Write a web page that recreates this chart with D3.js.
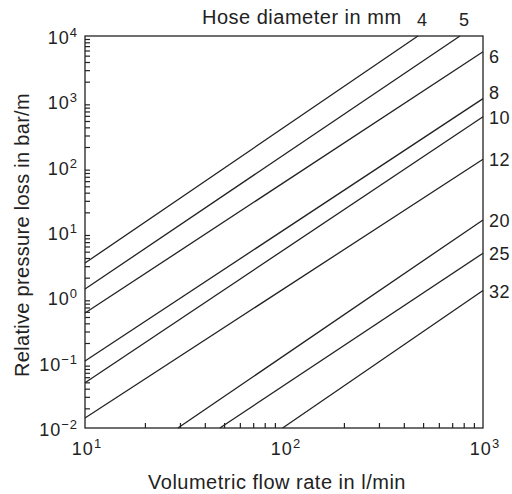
<!DOCTYPE html>
<html>
<head>
<meta charset="utf-8">
<script src="https://cdn.jsdelivr.net/npm/d3@7/dist/d3.min.js"></script>
<style>
  html, body { margin: 0; padding: 0; background: #fff; }
  text { font-family: "Liberation Sans", Arial, Helvetica, sans-serif; fill: #222; }
</style>
</head>
<body>
<svg id="chart" width="512" height="494"></svg>
<script>
// Hose diameters (mm) and the end points of each pressure-loss line
const diameters = ["4", "5", "6", "8", "10", "12", "20", "25", "32"];
const flowStart = [10, 10, 10, 10, 10, 10, 29.3, 47.6, 98.4];          // l/min
const lossStart = [3.35, 1.34, 0.575, 0.106, 0.0494, 0.0142, 0.01, 0.01, 0.01]; // bar/m
const flowEnd   = [471, 766, 1000, 1000, 1000, 1000, 1000, 1000, 1000];
const lossEnd   = [10000, 10000, 5730, 1100, 580, 130, 15.3, 4.73, 1.27];

const xTickValues = [10, 100, 1000];
const xTickExps   = ["1", "2", "3"];
const yTickValues = [0.01, 0.1, 1, 10, 100, 1000, 10000];
const yTickExps   = ["\u22122", "\u22121", "0", "1", "2", "3", "4"];

const margin = { left: 85, right: 29, top: 36, bottom: 66 };
const W = 512, H = 494;
const svg = d3.select("#chart");

const x = d3.scaleLog().domain([10, 1000]).range([margin.left, W - margin.right]);
const y = d3.scaleLog().domain([0.01, 10000]).range([H - margin.bottom, margin.top]);

const minorX = [];
for (let d = 10; d < 1000; d *= 10) for (let k = 2; k <= 9; k++) minorX.push(d * k);
const minorY = [];
for (let d = 0.01; d < 10000; d *= 10) for (let k = 2; k <= 9; k++) minorY.push(d * k);

// Frame
svg.append("rect")
  .attr("x", x(10)).attr("y", y(10000))
  .attr("width", x(1000) - x(10)).attr("height", y(0.01) - y(10000))
  .attr("fill", "none").attr("stroke", "#222").attr("stroke-width", 1.3);

// Inward ticks on the bottom axis
const xAxis = d3.axisBottom(x).tickValues(minorX).tickSize(-5).tickFormat("");
svg.append("g").attr("transform", `translate(0,${y(0.01)})`).call(xAxis)
  .call(g => g.select(".domain").remove())
  .selectAll("line").attr("stroke", "#222").attr("stroke-width", 1.2);

// Inward ticks on the left axis
const yAxis = d3.axisLeft(y).tickValues(minorY).tickSize(-5).tickFormat("");
svg.append("g").attr("transform", `translate(${x(10)},0)`).call(yAxis)
  .call(g => g.select(".domain").remove())
  .selectAll("line").attr("stroke", "#222").attr("stroke-width", 1.2);

// Power-of-ten tick labels
xTickValues.forEach((v, i) => {
  const t = svg.append("text").attr("x", x(v) + 2).attr("y", y(0.01) + 27)
    .attr("text-anchor", "middle").attr("font-size", 18).attr("letter-spacing", 1);
  t.append("tspan").text("10");
  t.append("tspan").attr("dy", -7).attr("font-size", 13).text(xTickExps[i]);
});
yTickValues.forEach((v, i) => {
  const t = svg.append("text").attr("x", x(10) - 7).attr("y", y(v) + 8)
    .attr("text-anchor", "end").attr("font-size", 18).attr("letter-spacing", 1);
  t.append("tspan").text("10");
  t.append("tspan").attr("dy", -7).attr("font-size", 13).text(yTickExps[i]);
});

// Axis titles
svg.append("text").attr("x", 277).attr("y", 489)
  .attr("text-anchor", "middle").attr("font-size", 20).attr("letter-spacing", 0.5)
  .text("Volumetric flow rate in l/min");
svg.append("text").attr("transform", `translate(29,235) rotate(-90)`)
  .attr("text-anchor", "middle").attr("font-size", 20).attr("letter-spacing", 0.3)
  .text("Relative pressure loss in bar/m");

// Pressure-loss lines
const line = d3.line().x(d => x(d[0])).y(d => y(d[1]));
diameters.forEach((d, i) => {
  svg.append("path")
    .attr("d", line([[flowStart[i], lossStart[i]], [flowEnd[i], lossEnd[i]]]))
    .attr("fill", "none").attr("stroke", "#222").attr("stroke-width", 1.3);
});

// Diameter labels: along the top for lines leaving through it, on the right otherwise.
// The labels for 6 and 8 are pushed apart so they do not crowd each other.
const labelNudge = { "6": 4, "8": -7 };
svg.append("text").attr("x", 202).attr("y", 24).attr("font-size", 20).attr("letter-spacing", 0.5)
  .text("Hose diameter in mm");
diameters.forEach((d, i) => {
  if (lossEnd[i] >= 10000) {
    svg.append("text").attr("x", x(flowEnd[i]) + 4).attr("y", 26)
      .attr("text-anchor", "middle").attr("font-size", 18).text(d);
  } else {
    svg.append("text").attr("x", x(1000) + 6)
      .attr("y", y(lossEnd[i]) + 7 + (labelNudge[d] || 0))
      .attr("font-size", 18).attr("letter-spacing", 0.5).text(d);
  }
});
</script>
</body>
</html>
